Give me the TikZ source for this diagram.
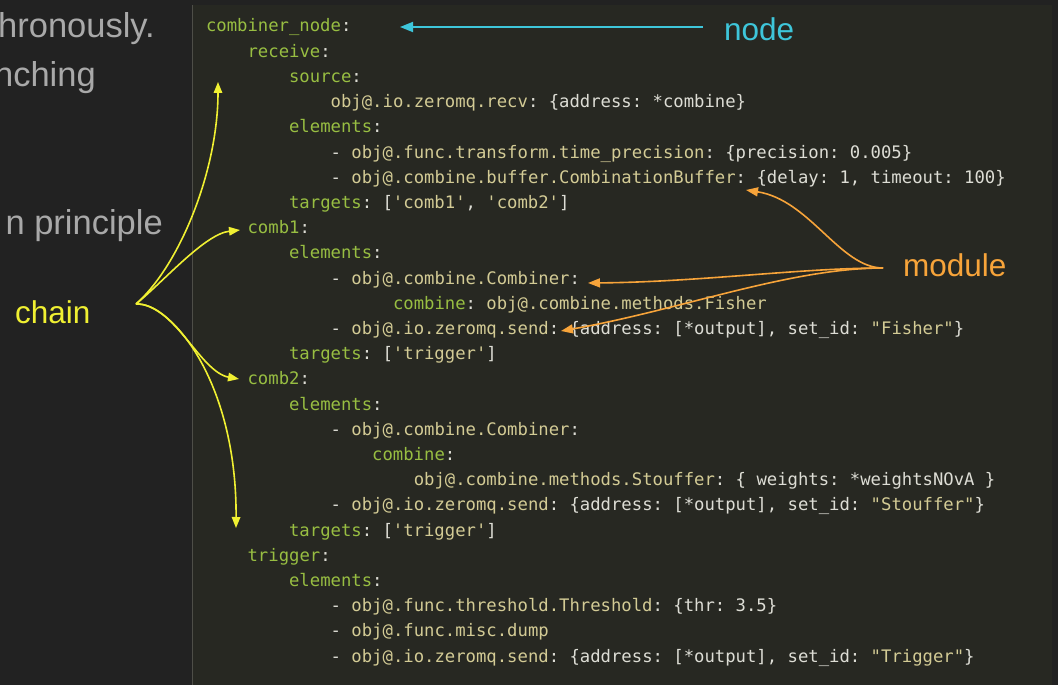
\documentclass[tikz,border=0pt]{standalone}
\usepackage{fontspec}
\setmainfont{Liberation Sans}
\setmonofont{DejaVu Sans Mono}
\usetikzlibrary{arrows.meta}

\definecolor{slidebg}{HTML}{222222}
\definecolor{panelbg}{HTML}{272822}
\definecolor{panelrule}{HTML}{4E4E48}
\definecolor{slidetext}{HTML}{A9A9A9}
\definecolor{codekey}{HTML}{98BE42}
\definecolor{codeval}{HTML}{D3CB95}
\definecolor{codeplain}{HTML}{DDDDD5}
\definecolor{nodecyan}{HTML}{3EC6DA}
\definecolor{chainyellow}{HTML}{F0F032}
\definecolor{modorange}{HTML}{F7A43A}

\newcommand\ckey[1]{\textcolor{codekey}{#1}}
\newcommand\cval[1]{\textcolor{codeval}{#1}}

\tikzset{
  codeln/.style={anchor=base west, inner sep=0pt, outer sep=0pt, text=codeplain,
    font=\ttfamily\fontsize{17.25}{25.2}\selectfont},
  slideln/.style={anchor=base east, inner sep=0pt, text=slidetext,
    font=\fontsize{34.5}{40}\selectfont},
  tag/.style={anchor=base west, inner sep=0pt, font=\fontsize{31.5}{38}\selectfont},
  nodearrow/.style={draw=nodecyan, line width=1.8pt, -{Triangle[length=13pt,width=10pt]}},
  chainarrow/.style={draw=chainyellow, line width=1.6pt, -{Triangle[length=11pt,width=8.5pt]}},
  modarrow/.style={draw=modorange, line width=1.6pt, -{Triangle[length=12pt,width=9pt]}},
}

\begin{document}
\begin{tikzpicture}[x=1pt,y=-1pt]
  % page and editor panel
  \fill[slidebg] (0,0) rectangle (1058,685);
  \useasboundingbox (0,0) rectangle (1058,685);
  \fill[panelbg] (192,5) rectangle (1052,685);
  \draw[panelrule, line width=1.5pt] (192.5,5) -- (192.5,685);

  % slide text running in from the left
  \node[slideln] (s1) at (155,38) {hronously.};
  \node[slideln] (s2) at (96,87) {nching};
  \node[slideln] (s3) at (163,234) {n principle};

  % YAML configuration
  \node[codeln] (l1)  at (206,32)      {\ckey{combiner\_node}:};
  \node[codeln] (l2)  at (247.6,57.2)  {\ckey{receive}:};
  \node[codeln] (l3)  at (289.1,82.4)  {\ckey{source}:};
  \node[codeln] (l4)  at (330.7,107.6) {\cval{obj@.io.zeromq.recv}: \{address: *combine\}};
  \node[codeln] (l5)  at (289.1,132.8) {\ckey{elements}:};
  \node[codeln] (l6)  at (330.7,158)   {- \cval{obj@.func.transform.time\_precision}: \{precision: 0.005\}};
  \node[codeln] (l7)  at (330.7,183.2) {- \cval{obj@.combine.buffer.CombinationBuffer}: \{delay: 1, timeout: 100\}};
  \node[codeln] (l8)  at (289.1,208.4) {\ckey{targets}: [\cval{'comb1'}, \cval{'comb2'}]};
  \node[codeln] (l9)  at (247.6,233.6) {\ckey{comb1}:};
  \node[codeln] (l10) at (289.1,258.8) {\ckey{elements}:};
  \node[codeln] (l11) at (330.7,284)   {- \cval{obj@.combine.Combiner}:};
  \node[codeln] (l12) at (393,309.2)   {\ckey{combine}: \cval{obj@.combine.methods.Fisher}};
  \node[codeln] (l13) at (330.7,334.4) {- \cval{obj@.io.zeromq.send}: \{address: [*output], set\_id: \cval{"Fisher"}\}};
  \node[codeln] (l14) at (289.1,359.6) {\ckey{targets}: [\cval{'trigger'}]};
  \node[codeln] (l15) at (247.6,384.8) {\ckey{comb2}:};
  \node[codeln] (l16) at (289.1,410)   {\ckey{elements}:};
  \node[codeln] (l17) at (330.7,435.2) {- \cval{obj@.combine.Combiner}:};
  \node[codeln] (l18) at (372.2,460.4) {\ckey{combine}:};
  \node[codeln] (l19) at (413.8,485.6) {\cval{obj@.combine.methods.Stouffer}: \{ weights: *weightsNOvA \}};
  \node[codeln] (l20) at (330.7,510.8) {- \cval{obj@.io.zeromq.send}: \{address: [*output], set\_id: \cval{"Stouffer"}\}};
  \node[codeln] (l21) at (289.1,536)   {\ckey{targets}: [\cval{'trigger'}]};
  \node[codeln] (l22) at (247.6,561.2) {\ckey{trigger}:};
  \node[codeln] (l23) at (289.1,586.4) {\ckey{elements}:};
  \node[codeln] (l24) at (330.7,611.6) {- \cval{obj@.func.threshold.Threshold}: \{thr: 3.5\}};
  \node[codeln] (l25) at (330.7,636.8) {- \cval{obj@.func.misc.dump}};
  \node[codeln] (l26) at (330.7,662)   {- \cval{obj@.io.zeromq.send}: \{address: [*output], set\_id: \cval{"Trigger"}\}};

  % annotation labels
  \node[tag, text=nodecyan]    (nodetag)   at (724,41)  {node};
  \node[tag, text=chainyellow] (chaintag)  at (15,323)  {chain};
  \node[tag, text=modorange]   (moduletag) at (903,276) {module};

  % connector ends
  \coordinate (nodeTail)  at (703,27);
  \coordinate (nodeHead)  at (400,27);
  \coordinate (chainHub)  at (136,304);
  \coordinate (toReceive) at (218,82);
  \coordinate (toComb1)   at (240,230);
  \coordinate (toComb2)   at (239,379);
  \coordinate (toTrigger) at (236,528);
  \coordinate (modHub)    at (883,268);
  \coordinate (toBuffer)  at (746,190);
  \coordinate (toCombiner) at (588,283);
  \coordinate (toSend)    at (561,331);

  % node arrow
  \draw[nodearrow] (nodeTail) -- (nodeHead);

  % chain arrows
  \draw[chainarrow] (chainHub) .. controls (180,265) and (218,170) .. (toReceive);
  \draw[chainarrow] (chainHub) .. controls (165,280) and (205,234) .. (toComb1);
  \draw[chainarrow] (chainHub) .. controls (174,303) and (200,372) .. (toComb2);
  \draw[chainarrow] (chainHub) .. controls (170,302) and (237,380) .. (toTrigger);

  % module arrows
  \draw[modarrow] (modHub) .. controls (840,268) and (810,200) .. (toBuffer);
  \draw[modarrow] (modHub) .. controls (800,268) and (700,282) .. (toCombiner);
  \draw[modarrow] (modHub) .. controls (790,268) and (680,310) .. (toSend);
\end{tikzpicture}
\end{document}
